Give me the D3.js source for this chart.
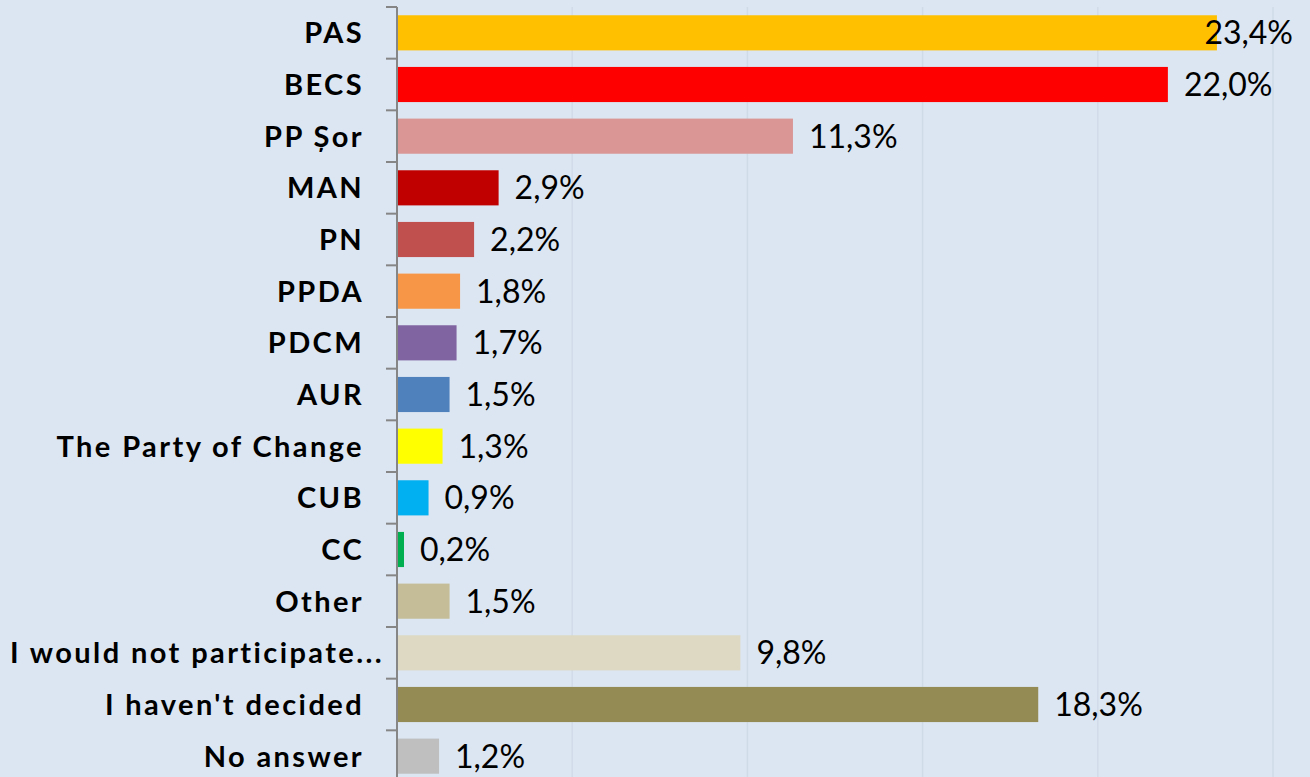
<!DOCTYPE html>
<html>
<head>
<meta charset="utf-8">
<script src="https://cdn.jsdelivr.net/npm/d3@7"></script>
<style>
  body { margin: 0; background: #dce6f2; }
  svg { display: block; }
  .cat { font-family: Lato, "Open Sans", sans-serif; font-weight: 700; font-size: 29px; letter-spacing: 2.4px; fill: #000; }
  .val { font-family: Lato, "Open Sans", sans-serif; font-size: 32px; fill: #000; }
</style>
</head>
<body>
<div id="chart"></div>
<script>
const svgWidth = 1310;
const svgHeight = 777;

// data
const categories = ["PAS", "BECS", "PP Șor", "MAN", "PN", "PPDA", "PDCM", "AUR",
  "The Party of Change", "CUB", "CC", "Other", "I would not participate...",
  "I haven't decided", "No answer"];
const values = [23.4, 22.0, 11.3, 2.9, 2.2, 1.8, 1.7, 1.5, 1.3, 0.9, 0.2, 1.5, 9.8, 18.3, 1.2];
const barColors = ["#ffc000", "#ff0000", "#d99694", "#c00000", "#c0504d", "#f79646",
  "#8064a2", "#4f81bd", "#ffff00", "#00b0f0", "#00b050", "#c4bd97", "#ddd9c3",
  "#948a54", "#bfbfbf"];
const gridTicks = [5, 10, 15, 20, 25];

const data = categories.map((c, i) => ({ name: c, value: values[i], color: barColors[i] }));

const svg = d3.select("#chart")
  .append("svg")
  .attr("width", svgWidth)
  .attr("height", svgHeight);

svg.append("rect")
  .attr("width", svgWidth)
  .attr("height", svgHeight)
  .attr("fill", "#dce6f2");

const xScale = d3.scaleLinear()
  .domain([0, 25])
  .range([397, 1273]);

const yScale = d3.scaleBand()
  .domain(categories)
  .range([7, 782])
  .paddingInner(0.32)
  .paddingOuter(0.16);

const step = yScale.step();

// vertical gridlines
svg.append("g")
  .selectAll("line")
  .data(gridTicks)
  .join("line")
  .attr("x1", d => xScale(d))
  .attr("x2", d => xScale(d))
  .attr("y1", 7)
  .attr("y2", 782)
  .attr("stroke", "#d0dbe8")
  .attr("stroke-width", 1.5);

// bars
svg.append("g")
  .selectAll("rect")
  .data(data)
  .join("rect")
  .attr("x", xScale(0) + 1)
  .attr("y", d => yScale(d.name))
  .attr("width", d => xScale(d.value) - xScale(0) - 1)
  .attr("height", yScale.bandwidth())
  .attr("fill", d => d.color);

// category axis with ticks between the bands
const axis = svg.append("g");
axis.append("line")
  .attr("x1", xScale(0))
  .attr("x2", xScale(0))
  .attr("y1", 7)
  .attr("y2", 782)
  .attr("stroke", "#868686")
  .attr("stroke-width", 2);

axis.selectAll(".tick")
  .data(d3.range(categories.length + 1))
  .join("line")
  .attr("class", "tick")
  .attr("x1", xScale(0) - 11)
  .attr("x2", xScale(0))
  .attr("y1", i => 7 + i * step)
  .attr("y2", i => 7 + i * step)
  .attr("stroke", "#868686")
  .attr("stroke-width", 2);

// category labels
const labelRight = 364;
axis.selectAll(".cat")
  .data(data)
  .join("text")
  .attr("class", "cat")
  .attr("x", labelRight)
  .attr("y", d => yScale(d.name) + yScale.bandwidth() / 2)
  .attr("dy", "0.36em")
  .attr("text-anchor", "end")
  .text(d => d.name)
  .each(function() {
    // the truncated long label sits further left and runs past the others
    const w = this.getComputedTextLength();
    if (w > labelRight - 10) {
      d3.select(this).attr("text-anchor", "start").attr("x", 10);
    }
  });

// value labels
const fmt = v => d3.format(".1f")(v).replace(".", ",") + "%";
const rightLimit = 1293;
svg.append("g")
  .selectAll("text")
  .data(data)
  .join("text")
  .attr("class", "val")
  .attr("x", d => xScale(d.value) + 16)
  .attr("y", d => yScale(d.name) + yScale.bandwidth() / 2)
  .attr("dy", "0.36em")
  .text(d => fmt(d.value))
  .each(function() {
    const t = d3.select(this);
    const w = this.getComputedTextLength();
    const x = +t.attr("x");
    if (x + w > rightLimit) t.attr("x", rightLimit - w);
  });
</script>
</body>
</html>
